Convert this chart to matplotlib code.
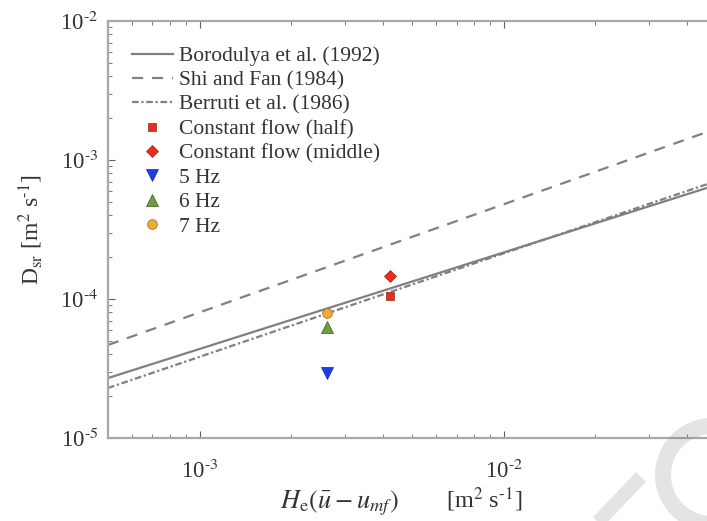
import numpy as np
import matplotlib
matplotlib.use("Agg")
import matplotlib.pyplot as plt
from matplotlib import patches, lines
from matplotlib.ticker import FuncFormatter

plt.rcParams["font.family"] = ["Liberation Serif", "DejaVu Serif"]
plt.rcParams["mathtext.fontset"] = "stix"
plt.rcParams["font.size"] = 15

# correlation lines, end points on the log-log axes
x_ends = [5.0e-4, 4.66e-2]
boro_y = [2.7e-5, 6.3e-4]
shi_y = [4.67e-5, 1.59e-3]
berr_y = [2.29e-5, 6.7e-4]

# measured points
x_half = [4.22e-3]
y_half = [1.05e-4]
x_mid = [4.22e-3]
y_mid = [1.47e-4]
x_5hz = [2.63e-3]
y_5hz = [2.95e-5]
x_6hz = [2.63e-3]
y_6hz = [6.3e-5]
x_7hz = [2.63e-3]
y_7hz = [7.88e-5]

grey = "#808080"
txt = "#333333"

fig = plt.figure(figsize=(7.07, 5.21), dpi=100)
ax = fig.add_axes([108/707, 83/521, 599/707, 417/521])

ax.plot(x_ends, boro_y, color=grey, lw=1.6, ls="-", label="Borodulya et al. (1992)")
ax.plot(x_ends, shi_y, color=grey, lw=1.6, ls=(0, (5, 4)), label="Shi and Fan (1984)")
ax.plot(x_ends, berr_y, color=grey, lw=1.6, ls=(0, (3, 1.2, 1, 1.2)), label="Berruti et al. (1986)")

ax.plot(x_half, y_half, "s", ms=6, color="#ee2a1c", mec="#8a3020", mew=0.5, ls="none",
        label="Constant flow (half)")
ax.plot(x_mid, y_mid, "D", ms=6.5, color="#ee2a1c", mec="#8a3020", mew=0.5, ls="none",
        label="Constant flow (middle)")
ax.plot(x_5hz, y_5hz, "v", ms=8, color="#1f3ce8", mec="#1a2a80", mew=0.5, ls="none",
        label="5 Hz")
ax.plot(x_6hz, y_6hz, "^", ms=8, color="#6aa03c", mec="#3a5a28", mew=0.5, ls="none",
        label="6 Hz")
ax.plot(x_7hz, y_7hz, "o", ms=7, color="#f0ac30", mec="#8a6a30", mew=0.5, ls="none",
        label="7 Hz")

ax.set_xscale("log")
ax.set_yscale("log")
ax.set_xlim(x_ends)
ax.set_ylim(1e-5, 1e-2)

# decade labels with a short hyphen in the exponent
def decade(v, pos):
    return r"10$^{\text{-}%d}$" % round(-np.log10(v))

ax.xaxis.set_major_formatter(FuncFormatter(decade))
ax.yaxis.set_major_formatter(FuncFormatter(decade))

for side in ["left", "top", "bottom"]:
    ax.spines[side].set_color("#a8a8a8")
    ax.spines[side].set_linewidth(1.6)
ax.spines["right"].set_visible(False)

ax.tick_params(which="both", direction="in", top=True, right=False,
               color="#606060", labelsize=16.5, labelcolor=txt)
ax.tick_params(which="major", length=5, width=0.8)
ax.tick_params(axis="x", which="major", pad=16)
ax.tick_params(axis="y", which="major", pad=7)
ax.tick_params(which="minor", length=3, width=0.6)

# x axis title: quantity and unit set apart
fig.text(339/707, 1 - 508/521, r"$H_{\rm e}(\bar{u}-u_{mf})$", fontsize=19,
         color=txt, ha="center", va="baseline")
fig.text(484/707, 1 - 508/521, r"[m$^2$ s$^{\text{-}1}$]", fontsize=17.5,
         color=txt, ha="center", va="baseline")
ax.set_ylabel(r"D$_{\rm sr}$ [m$^2$ s$^{\text{-}1}$]", fontsize=17, color=txt)
ax.yaxis.set_label_coords(-0.105, 0.5)

ax.legend(loc="upper left", bbox_to_anchor=(24/599, 0.94), frameon=False,
          borderpad=0, borderaxespad=0, handlelength=1.9, handletextpad=0.3,
          labelspacing=0.2, fontsize=15.5, labelcolor=txt)

# faint logo mark over the lower right corner (pixel coords, origin bottom left)
logo = dict(color="#808080", alpha=0.21, transform=None, zorder=10)
ring = patches.Arc((712, 46), 98, 98, theta1=60, theta2=280, lw=11.5, **logo)
stem = lines.Line2D([597, 641], [-2, 44], lw=10, solid_capstyle="butt", **logo)
fig.add_artist(ring)
fig.add_artist(stem)

fig.savefig("out.png", dpi=100)
